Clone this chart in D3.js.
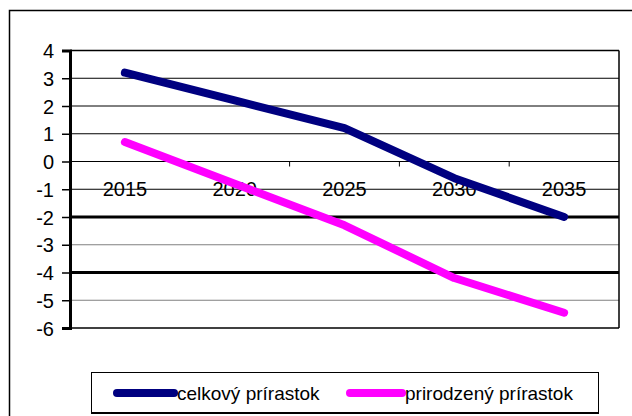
<!DOCTYPE html>
<html><head><meta charset="utf-8">
<script src="https://cdn.jsdelivr.net/npm/d3@7/dist/d3.min.js"></script>
<style>body{margin:0;background:#fff}svg{display:block;font-family:"Liberation Sans",Arial,sans-serif}</style>
</head><body>
<script>
const years = ["2015","2020","2025","2030","2035"];
const celkovy = [3.2, 2.2, 1.2, -0.6, -2.0];
const prirodzeny = [0.7, -0.8, -2.3, -4.2, -5.45];
const yTicks = [4,3,2,1,0,-1,-2,-3,-4,-5,-6];
const seriesNames = ["celkový prírastok","prirodzený prírastok"];
const seriesColors = ["#000080","#ff00ff"];

const W=632,H=416;
const svg=d3.select("body").append("svg").attr("width",W).attr("height",H);
// outer border
svg.append("rect").attr("x",9.5).attr("y",10.5).attr("width",640).attr("height",420)
  .attr("fill","none").attr("stroke","#000").attr("stroke-width",1.5);

const x=d3.scaleBand().domain(years).range([70,619]);
const y=d3.scaleLinear().domain([-6,4]).range([328,50.5]);

// gridlines
const g=svg.append("g");
yTicks.forEach(t=>{
  let stroke="#000",sw=1;
  if(t===-2||t===-4){sw=3;}
  else if(t===-3||t===-5){stroke="#808080";sw=1.2;}
  else if(t===4||t===-6){sw=1.5;}
  g.append("line").attr("x1",70).attr("x2",619).attr("y1",y(t)).attr("y2",y(t))
   .attr("stroke",stroke).attr("stroke-width",sw);
});
// right border
g.append("line").attr("x1",619).attr("x2",619).attr("y1",y(4)).attr("y2",y(-6)).attr("stroke","#000").attr("stroke-width",1.5);

// y axis
const yAxis=d3.axisLeft(y).tickValues(yTicks).tickSize(8).tickPadding(8).tickFormat(d3.format("d"));
const ya=svg.append("g").attr("transform","translate(70,0)").call(yAxis);
ya.select(".domain").attr("stroke","#000").attr("stroke-width",3);
ya.selectAll(".tick line").attr("stroke","#000").attr("stroke-width",1.5);
ya.selectAll("text").attr("font-size",20).attr("fill","#000").attr("font-family","Liberation Sans, Arial, sans-serif").attr("dy","0.36em").text(d=>d<0?"-"+Math.abs(d):d);

// x axis at 0
const xa=svg.append("g").attr("transform",`translate(0,${y(0)})`);
xa.append("line").attr("x1",70).attr("x2",619).attr("stroke","#000").attr("stroke-width",1);
years.forEach((yr,i)=>{
  if(i>0){xa.append("line").attr("x1",x(yr)).attr("x2",x(yr)).attr("y1",0).attr("y2",5).attr("stroke","#000").attr("stroke-width",1);}
  xa.append("text").attr("x",x(yr)+x.bandwidth()/2).attr("y",34).attr("text-anchor","middle")
    .attr("font-size",20).attr("fill","#000").text(yr);
});

// lines
const line=d3.line().x((d,i)=>x(years[i])+x.bandwidth()/2).y(d=>y(d));
[celkovy,prirodzeny].forEach((s,k)=>{
  svg.append("path").datum(s).attr("d",line).attr("fill","none").attr("stroke",seriesColors[k])
    .attr("stroke-width",8).attr("stroke-linejoin","round").attr("stroke-linecap","round");
});

// legend
const lg=svg.append("g");
lg.append("rect").attr("x",91.5).attr("y",372.5).attr("width",507).attr("height",40).attr("fill","#fff").attr("stroke","#000").attr("stroke-width",1);
lg.append("line").attr("x1",91).attr("x2",599).attr("y1",413).attr("y2",413).attr("stroke","#000").attr("stroke-width",2);
const legX=[[117,174,177],[350,402,405]];
seriesNames.forEach((n,k)=>{
  lg.append("line").attr("x1",legX[k][0]).attr("x2",legX[k][1]).attr("y1",393).attr("y2",393)
    .attr("stroke",seriesColors[k]).attr("stroke-width",8).attr("stroke-linecap","round");
  lg.append("text").attr("x",legX[k][2]).attr("y",400).attr("font-size",19).attr("fill","#000").text(n);
});
</script>
</body></html>
